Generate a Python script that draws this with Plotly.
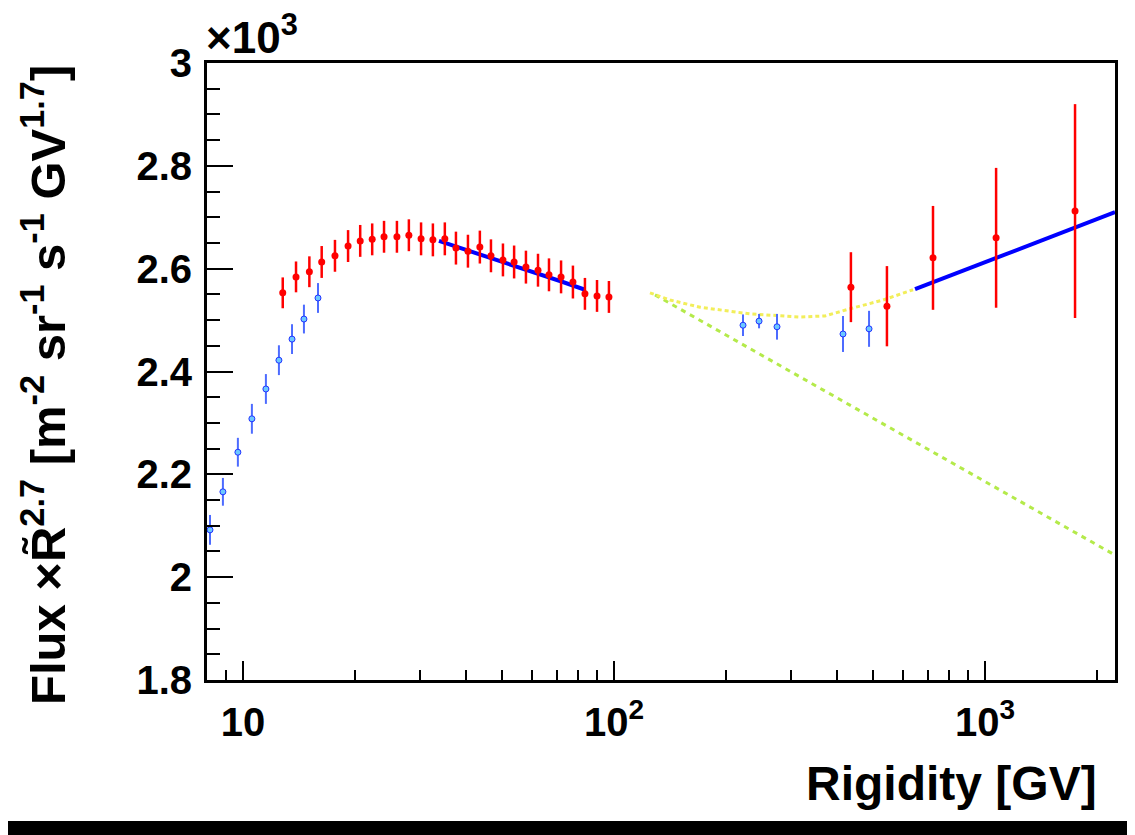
import plotly.graph_objects as go

# ---------------- data (rigidity in GV, flux x R^2.7 in units of 10^3) ----------------
red_R = [12.8, 13.9, 15.1, 16.3, 17.7, 19.2, 20.7, 22.3, 24.0, 26.0, 28.0, 30.2, 32.5, 35.0,
         37.5, 40.4, 43.5, 46.6, 50.2, 53.8, 57.9, 62.4, 66.8, 72.0, 77.5, 83.5, 90.0, 96.9,
         435, 544, 724, 1071, 1748]
red_F = [2.553, 2.584, 2.594, 2.613, 2.625, 2.644, 2.654, 2.657, 2.662, 2.662, 2.665, 2.658,
         2.656, 2.658, 2.640, 2.634, 2.642, 2.625, 2.617, 2.613, 2.603, 2.597, 2.588, 2.584,
         2.574, 2.551, 2.547, 2.545, 2.564, 2.527, 2.621, 2.660, 2.712]
red_err = [0.030, 0.030, 0.030, 0.031, 0.031, 0.031, 0.031, 0.031, 0.031, 0.031, 0.031, 0.032,
           0.032, 0.032, 0.032, 0.032, 0.032, 0.032, 0.032, 0.032, 0.032, 0.032, 0.032, 0.032,
           0.032, 0.031, 0.031, 0.031, 0.068, 0.078, 0.101, 0.136, 0.208]

cyan_R = [8.15, 8.83, 9.69, 10.57, 11.53, 12.50, 13.56, 14.60, 15.93,
          222.7, 246.0, 275.0, 414.2, 486.8]
cyan_F = [2.092, 2.166, 2.243, 2.308, 2.366, 2.422, 2.463, 2.502, 2.543,
          2.490, 2.498, 2.487, 2.473, 2.483]
cyan_err = [0.029, 0.027, 0.028, 0.029, 0.029, 0.029, 0.029, 0.028, 0.029,
            0.021, 0.014, 0.025, 0.035, 0.035]

fit_lo_R = [33.75, 43.53, 55.80, 71.52, 83.53]
fit_lo_F = [2.654, 2.628, 2.602, 2.576, 2.559]
fit_hi_R = [647.6, 1204.8, 2240]
fit_hi_F = [2.560, 2.635, 2.710]

model_R = [125.0, 141.6, 170.6, 232.6, 317.2, 370.5, 432.6, 531.0, 639.6]
model_F = [2.553, 2.539, 2.525, 2.512, 2.506, 2.508, 2.522, 2.539, 2.559]

pl_R = [129.0, 537.6, 2240]
pl_F = [2.549, 2.296, 2.043]

x_major = [10, 100, 1000]
x_major_text = ["10", "10<sup>2</sup>", "10<sup>3</sup>"]
x_minor = [9, 20, 30, 40, 50, 60, 70, 80, 90, 200, 300, 400, 500, 600, 700, 800, 900, 2000]
y_major = [1.8, 2.0, 2.2, 2.4, 2.6, 2.8, 3.0]
y_major_text = ["1.8", "2", "2.2", "2.4", "2.6", "2.8", "3"]
y_minor = [1.85, 1.9, 1.95, 2.05, 2.1, 2.15, 2.25, 2.3, 2.35, 2.45, 2.5, 2.55,
           2.65, 2.7, 2.75, 2.85, 2.9, 2.95]

FONT = "Liberation Sans"

fig = go.Figure()

fig.add_trace(go.Scatter(x=pl_R, y=pl_F, mode="lines",
                         line=dict(color="#b4ea4a", width=3, dash="5px,5px"),
                         showlegend=False))
fig.add_trace(go.Scatter(x=model_R, y=model_F, mode="lines",
                         line=dict(color="#f2ee5a", width=3, dash="4px,3px"),
                         showlegend=False))
fig.add_trace(go.Scatter(x=fit_lo_R, y=fit_lo_F, mode="lines",
                         line=dict(color="#0000ff", width=4), showlegend=False))
fig.add_trace(go.Scatter(x=fit_hi_R, y=fit_hi_F, mode="lines",
                         line=dict(color="#0000ff", width=4), showlegend=False))
fig.add_trace(go.Scatter(x=cyan_R, y=cyan_F, mode="markers",
                         marker=dict(symbol="circle", size=6, color="#6cc8ff",
                                     line=dict(color="#2233ff", width=1)),
                         error_y=dict(type="data", array=cyan_err, color="#4d6bff",
                                      thickness=2, width=0),
                         showlegend=False))
fig.add_trace(go.Scatter(x=red_R, y=red_F, mode="markers",
                         marker=dict(symbol="circle", size=7, color="#ff0000"),
                         error_y=dict(type="data", array=red_err, color="#ff0000",
                                      thickness=2.5, width=0),
                         showlegend=False))

fig.update_xaxes(type="log", range=[0.90309, 3.35025], automargin=False,
                 tickmode="array", tickvals=x_major, ticktext=x_major_text,
                 ticks="inside", ticklen=19, tickwidth=2, tickcolor="black",
                 minor=dict(tickmode="array", tickvals=x_minor, ticks="inside",
                            ticklen=10, tickwidth=2, tickcolor="black", showgrid=False),
                 showline=True, linecolor="black", linewidth=3, mirror=True,
                 showgrid=False, zeroline=False,
                 tickfont=dict(family=FONT, size=40, color="black", weight="bold"),
                 ticklabelstandoff=5)
fig.update_yaxes(range=[1.8, 3.0], automargin=False,
                 tickmode="array", tickvals=y_major, ticktext=y_major_text,
                 ticks="inside", ticklen=26, tickwidth=2, tickcolor="black",
                 minor=dict(tickmode="array", tickvals=y_minor, ticks="inside",
                            ticklen=13, tickwidth=2, tickcolor="black", showgrid=False),
                 showline=True, linecolor="black", linewidth=3, mirror=True,
                 showgrid=False, zeroline=False,
                 tickfont=dict(family=FONT, size=40, color="black", weight="bold"),
                 ticklabelstandoff=4)

# page body has an 8px margin: figure is drawn 8px right/down of the window corner
OFF = 8
W, H = 1135 - OFF, 835 - OFF
PL, PR, PT, PB = 207, 1115, 63, 680          # plot area in window pixels
L, R_, T, B = PL - OFF, W - (PR - OFF), PT - OFF, H - (PB - OFF)
pw, ph = PR - PL, PB - PT

def px(x):
    return (x - PL) / pw

def py(y):
    return (PB - y) / ph

fig.add_annotation(text="Rigidity [GV]", xref="paper", yref="paper",
                   x=px(1099), y=py(755), xanchor="right", yanchor="top", showarrow=False,
                   font=dict(family=FONT, size=48, color="black", weight="bold"))
fig.add_annotation(text="Flux \u00d7R\u0303<sup>2.7</sup> [m<sup>-2</sup> sr<sup>-1</sup> s<sup>-1</sup> GV<sup>1.7</sup>]",
                   xref="paper", yref="paper", x=px(44), y=py(385),
                   xanchor="center", yanchor="middle", textangle=-90, showarrow=False,
                   font=dict(family=FONT, size=49, color="black", weight="bold"))
fig.add_annotation(text="\u00d710<sup>3</sup>", xref="paper", yref="paper",
                   x=px(204), y=py(64), xanchor="left", yanchor="bottom", showarrow=False,
                   font=dict(family=FONT, size=44, color="black", weight="bold"))

fig.add_shape(type="rect", xref="paper", yref="paper",
              x0=px(0), x1=px(1135), y0=py(835), y1=py(821),
              fillcolor="black", line=dict(width=0), layer="above")

fig.update_layout(width=W, height=H, margin=dict(l=L, r=R_, t=T, b=B, autoexpand=False),
                  paper_bgcolor="white", plot_bgcolor="white", showlegend=False)

fig.write_html("out.html")
